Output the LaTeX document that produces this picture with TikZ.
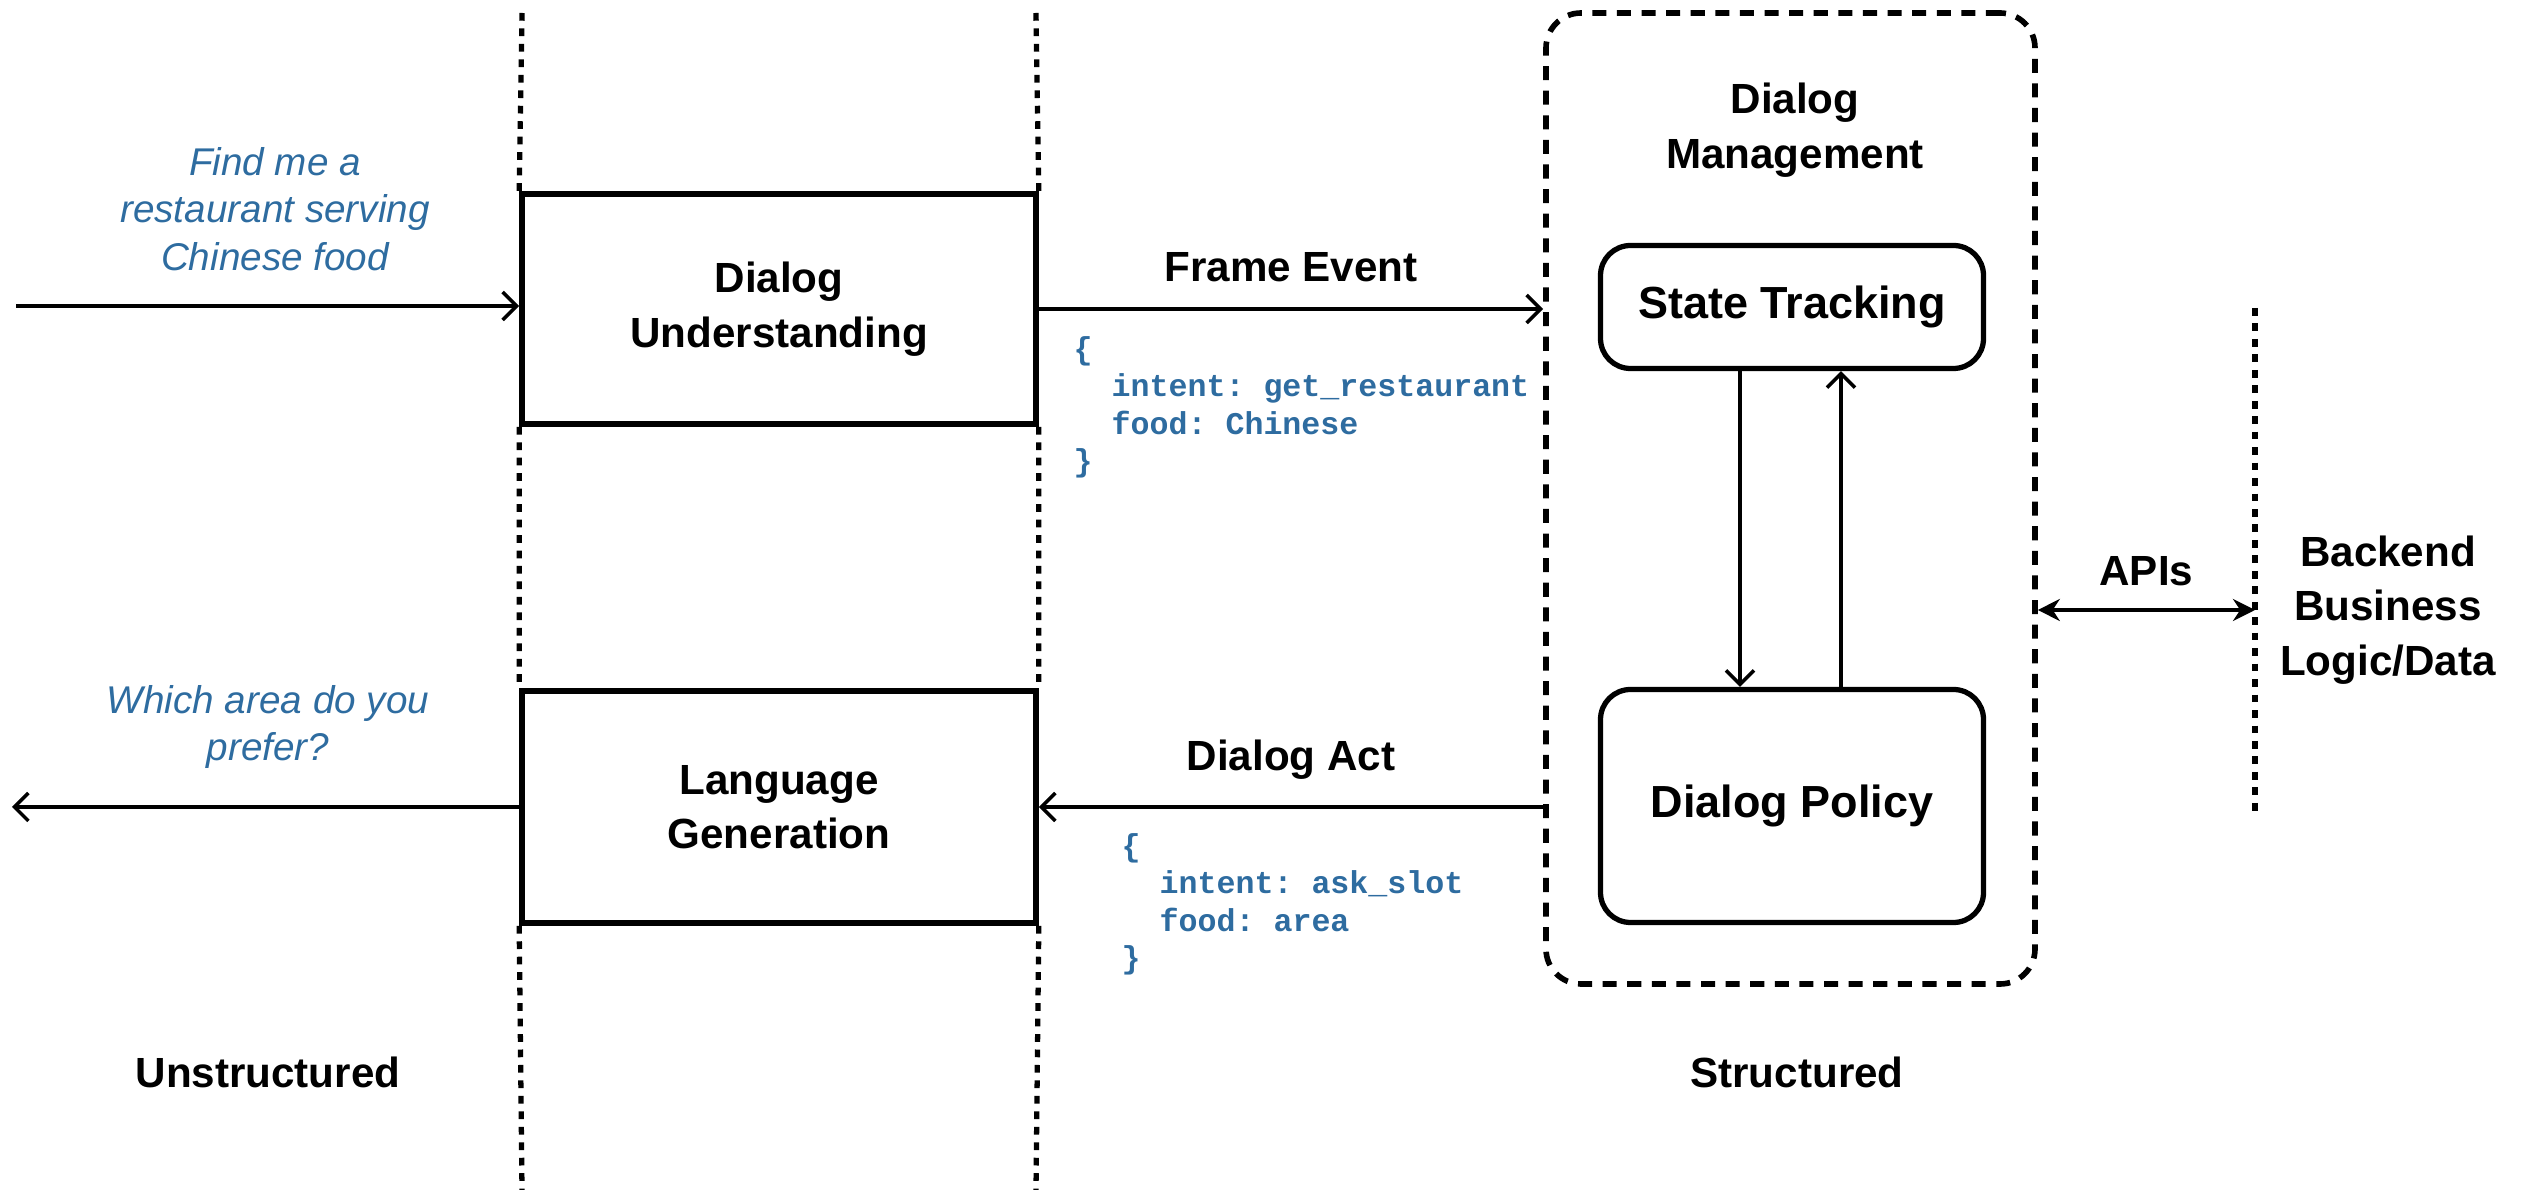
\documentclass[tikz,border=0pt]{standalone}
\usepackage{fontspec}
\setmainfont{Liberation Sans}
\setmonofont{Liberation Mono}
\usetikzlibrary{positioning, arrows.meta}

\definecolor{msgblue}{RGB}{46,108,160}

\tikzset{
    block/.style={draw=black, line width=1.6pt, minimum width=5.14cm, align=center, font=\fontsize{12}{15.5}\selectfont\bfseries},
    roundblock/.style={draw=black, line width=1.5pt, rounded corners=0.3cm, minimum width=3.83cm, align=center, font=\fontsize{12.8}{15.5}\selectfont\bfseries},
    title/.style={align=center, font=\fontsize{12}{15.5}\selectfont\bfseries},
    utter/.style={align=center, text=msgblue, font=\fontsize{11}{13.5}\selectfont\itshape},
    frame/.style={align=left, anchor=north west, inner sep=0pt, text=msgblue, font=\fontsize{9}{10.6}\selectfont\ttfamily\bfseries},
    flow/.style={line width=1pt, -{Straight Barb[length=1.4mm, width=2.8mm, line width=1pt]}},
    biflow/.style={line width=1pt, {Stealth[length=2.2mm, width=2.2mm]}-{Stealth[length=2.2mm, width=2.2mm]}},
    divider/.style={line width=1.5pt, dash pattern=on 2.2pt off 2.2pt}
}

\begin{document}
\begin{tikzpicture}
    \useasboundingbox (0,0) rectangle (25.39,-11.90);

    % boxes
    \node[block, minimum height=2.30cm] (du) at (7.79,-3.09) {Dialog\\Understanding};
    \node[block, minimum height=2.32cm] (lg) at (7.79,-8.07) {Language\\Generation};
    \node[draw=black, line width=1.6pt, dash pattern=on 4pt off 3pt, rounded corners=0.35cm, minimum width=4.89cm, minimum height=9.71cm] (dm) at (17.905,-4.985) {};
    \node[title] (dmt) at (17.95,-1.30) {Dialog\\Management};
    \node[roundblock, minimum height=1.23cm] (st) at (17.92,-3.07) {State Tracking};
    \node[roundblock, minimum height=2.33cm] (dp) at (17.92,-8.06) {Dialog Policy};

    % dividers
    \coordinate (d1t) at (5.22,-0.13);
    \coordinate (d1b) at (5.22,-11.90);
    \coordinate (d2t) at (10.36,-0.13);
    \coordinate (d2b) at (10.36,-11.90);
    \coordinate (d3t) at (22.55,-3.08);
    \coordinate (d3b) at (22.55,-8.18);
    \draw[divider] (d1t) -- (du.north west) (du.south west) -- (lg.north west) (lg.south west) -- (d1b);
    \draw[divider] (d2t) -- (du.north east) (du.south east) -- (lg.north east) (lg.south east) -- (d2b);
    \draw[divider] (d3t) -- (d3b);

    % user side
    \coordinate (in) at (0.16,-3.06);
    \coordinate (out) at (0.12,-8.07);
    \node[utter] (q) at (2.75,-2.09) {Find me a\\restaurant serving\\Chinese food};
    \node[utter] (a) at (2.68,-7.27) {Which area do you\\prefer?};
    \draw[flow] (in) -- (in -| du.west);
    \draw[flow] (lg.west) -- (out);

    % frames
    \draw[flow] (du.east) -- (du.east -| dm.west) node[midway, above=4pt, title] (fe) {Frame Event};
    \draw[flow] (lg.east -| dm.west) -- (lg.east) node[midway, above=4pt, title] (da) {Dialog Act};
    \node[frame] (fec) at (10.73,-3.36) {\{\\\hphantom{xx}intent: get\_restaurant\\\hphantom{xx}food: Chinese\\\}};
    \node[frame] (dac) at (11.21,-8.33) {\{\\\hphantom{xx}intent: ask\_slot\\\hphantom{xx}food: area\\\}};

    % inside dialog management
    \draw[flow] ([xshift=-0.52cm]st.south) -- ([xshift=-0.52cm]st.south |- dp.north);
    \draw[flow] ([xshift=0.49cm]dp.north) -- ([xshift=0.49cm]dp.north |- st.south);

    % backend
    \coordinate (be) at (22.55,-6.10);
    \draw[biflow] (dm.east |- be) -- (be) node[midway, above=3pt, title] (api) {APIs};
    \node[title] (bl) at (23.88,-6.10) {Backend\\Business\\Logic/Data};

    \node[title] (un) at (2.68,-10.72) {Unstructured};
    \node[title] (sd) at (17.97,-10.72) {Structured};
\end{tikzpicture}
\end{document}
